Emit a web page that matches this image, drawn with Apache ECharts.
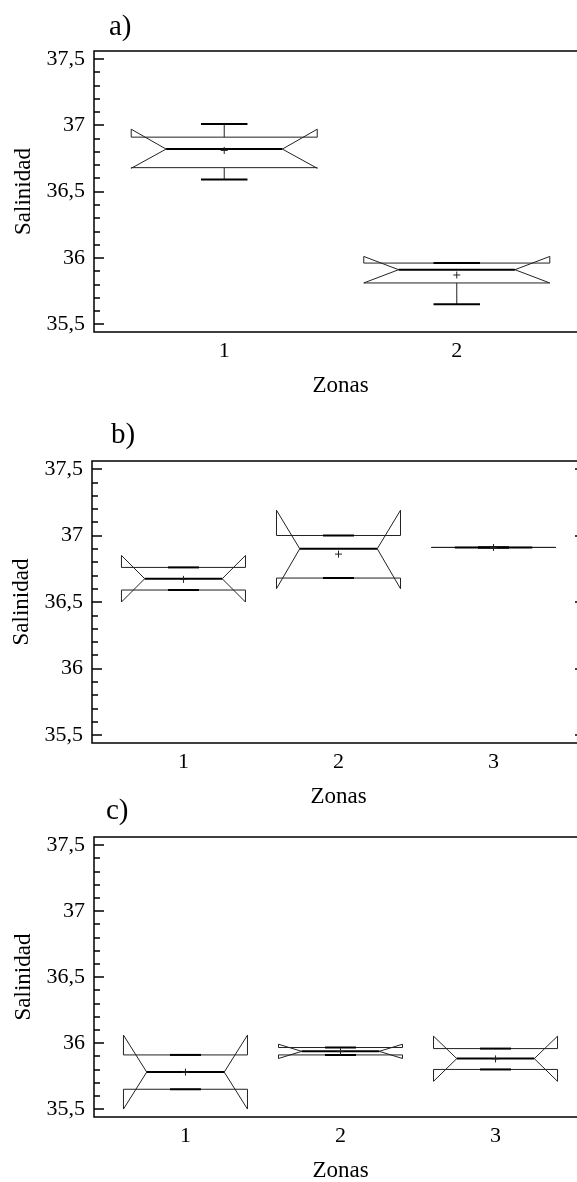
<!DOCTYPE html>
<html>
<head>
<meta charset="utf-8">
<script src="https://cdn.jsdelivr.net/npm/echarts@6/dist/echarts.min.js"></script>
<style>
html,body{margin:0;padding:0;background:#fff;}
#chart{width:577px;height:1182px;}
</style>
</head>
<body>
<div id="chart"></div>
<script>
// ---- Data ----
const zonesA = [1, 2];
const zonesBC = [1, 2, 3];

// Panel a)
const aMin     = [36.59, 35.65];
const aQ1      = [36.68, 35.81];
const aMedian  = [36.82, 35.91];
const aQ3      = [36.91, 35.96];
const aMax     = [37.01, 35.96];
const aMean    = [36.81, 35.87];
const aNotchLo = [36.675, 35.81];
const aNotchHi = [36.97, 36.01];

// Panel b)
const bMin     = [36.59, 36.68, 36.91];
const bQ1      = [36.59, 36.68, 36.91];
const bMedian  = [36.675, 36.90, 36.91];
const bQ3      = [36.76, 37.00, 36.91];
const bMax     = [36.76, 37.00, 36.91];
const bMean    = [36.67, 36.86, 36.91];
const bNotchLo = [36.50, 36.60, 36.91];
const bNotchHi = [36.85, 37.19, 36.91];

// Panel c)
const cMin     = [35.65, 35.91, 35.80];
const cQ1      = [35.65, 35.91, 35.80];
const cMedian  = [35.78, 35.937, 35.882];
const cQ3      = [35.91, 35.966, 35.958];
const cMax     = [35.91, 35.966, 35.958];
const cMean    = [35.78, 35.935, 35.88];
const cNotchLo = [35.50, 35.883, 35.71];
const cNotchHi = [36.06, 35.991, 36.052];

// Tick labels
const yMajorTicks = [35.5, 36, 36.5, 37, 37.5];
const yMinorTicks = [35.6, 35.7, 35.8, 35.9, 36.1, 36.2, 36.3, 36.4, 36.6, 36.7, 36.8, 36.9, 37.1, 37.2, 37.3, 37.4];
const panelLabels = ['a)', 'b)', 'c)'];
const xTitle = 'Zonas';
const yTitle = 'Salinidad';

// ---- Chart ----
const FONT = "'Liberation Serif','Times New Roman',serif";
const HALF = 0.4, NOTCH = 0.15, CAP = 0.1;

function buildData(x, mn, q1, md, q3, mx, mean, nlo, nhi) {
  return x.map((v, i) => [v, mn[i], q1[i], md[i], q3[i], mx[i], mean[i], nlo[i], nhi[i]]);
}
const dataA = buildData(zonesA, aMin, aQ1, aMedian, aQ3, aMax, aMean, aNotchLo, aNotchHi);
const dataB = buildData(zonesBC, bMin, bQ1, bMedian, bQ3, bMax, bMean, bNotchLo, bNotchHi);
const dataC = buildData(zonesBC, cMin, cQ1, cMedian, cQ3, cMax, cMean, cNotchLo, cNotchHi);

function renderBox(params, api) {
  const x = api.value(0);
  const vMin = api.value(1), q1 = api.value(2), med = api.value(3), q3 = api.value(4),
        vMax = api.value(5), mean = api.value(6), nLo = api.value(7), nHi = api.value(8);
  const P = (dx, v) => api.coord([x + dx, v]);
  const outline = [
    P(-HALF, q1), P(-HALF, nLo), P(-HALF + NOTCH, med), P(-HALF, nHi), P(-HALF, q3),
    P(HALF, q3), P(HALF, nHi), P(HALF - NOTCH, med), P(HALF, nLo), P(HALF, q1)
  ];
  const thin = {stroke: '#222', lineWidth: 1, fill: 'none'};
  const bold = {stroke: '#000', lineWidth: 2, fill: 'none'};
  const seg = (a, b, st) => ({type: 'line', shape: {x1: a[0], y1: a[1], x2: b[0], y2: b[1]}, style: st});
  const m = api.coord([x, mean]);
  return {
    type: 'group',
    children: [
      {type: 'polygon', shape: {points: outline}, style: thin},
      seg(P(-HALF + NOTCH, med), P(HALF - NOTCH, med), bold),
      seg(P(0, q3), P(0, vMax), thin),
      seg(P(-CAP, vMax), P(CAP, vMax), bold),
      seg(P(0, q1), P(0, vMin), thin),
      seg(P(-CAP, vMin), P(CAP, vMin), bold),
      seg([m[0] - 3.5, m[1]], [m[0] + 3.5, m[1]], thin),
      seg([m[0], m[1] - 3.5], [m[0], m[1] + 3.5], thin)
    ]
  };
}

const grids = [
  {left: 94, top: 51, width: 493, height: 281},
  {left: 92, top: 461, width: 493, height: 282},
  {left: 94, top: 837, width: 493, height: 280}
];
const xRanges = [[0.44, 2.56], [0.41, 3.59], [0.41, 3.59]];
const xCats = [zonesA, zonesBC, zonesBC];
const datas = [dataA, dataB, dataC];
const titlePos = [{left: 109, top: 13}, {left: 111, top: 421}, {left: 106, top: 797}];

const option = {
  animation: false,
  backgroundColor: '#fff',
  title: panelLabels.map((t, i) => ({
    text: t, left: titlePos[i].left, top: titlePos[i].top, padding: 0,
    textStyle: {fontFamily: FONT, fontSize: 29, fontWeight: 'normal', color: '#000', lineHeight: 29}
  })),
  grid: grids.map(g => Object.assign({show: true, borderColor: '#000', borderWidth: 1.5, backgroundColor: 'transparent',
    containLabel: false, outerBoundsMode: 'none'}, g)),
  xAxis: grids.map((g, i) => ({
    gridIndex: i, type: 'value', min: xRanges[i][0], max: xRanges[i][1],
    axisLine: {show: false}, axisTick: {show: false}, splitLine: {show: false},
    axisLabel: {customValues: xCats[i], margin: 8, fontFamily: FONT, fontSize: 22, color: '#000'},
    name: xTitle, nameLocation: 'middle', nameGap: 42,
    nameTextStyle: {fontFamily: FONT, fontSize: 23, color: '#000'}
  })),
  yAxis: [].concat(...grids.map((g, i) => [
    {
      gridIndex: i, type: 'value', min: 35.44, max: 37.56, position: 'left',
      axisLine: {show: false}, splitLine: {show: false},
      axisTick: {show: true, inside: true, length: 10, customValues: yMajorTicks, lineStyle: {color: '#000', width: 1.5}},
      axisLabel: {show: true, customValues: yMajorTicks, margin: 9, fontFamily: FONT, fontSize: 22, color: '#000',
        formatter: v => String(v).replace('.', ',')},
      name: yTitle, nameLocation: 'middle', nameGap: 57,
      nameTextStyle: {fontFamily: FONT, fontSize: 23, color: '#000'}
    },
    {
      gridIndex: i, type: 'value', min: 35.44, max: 37.56, position: 'left', offset: 0,
      axisLine: {show: false}, splitLine: {show: false},
      axisTick: {show: true, inside: true, length: 6, customValues: yMinorTicks, lineStyle: {color: '#000', width: 1.5}},
      axisLabel: {show: false}
    },
    {
      gridIndex: i, type: 'value', min: 35.44, max: 37.56, position: 'right', offset: 0,
      axisLine: {show: false}, splitLine: {show: false},
      axisTick: {show: true, inside: true, length: 10, customValues: yMajorTicks, lineStyle: {color: '#000', width: 1.5}},
      axisLabel: {show: false}
    }
  ])),
  series: datas.map((d, i) => ({
    type: 'custom', xAxisIndex: i, yAxisIndex: i * 3,
    renderItem: renderBox,
    encode: {x: 0, y: [1, 2, 3, 4, 5, 6, 7, 8]},
    data: d, silent: true
  }))
};

const chart = echarts.init(document.getElementById('chart'), null, {renderer: 'canvas'});
chart.setOption(option);
</script>
</body>
</html>
